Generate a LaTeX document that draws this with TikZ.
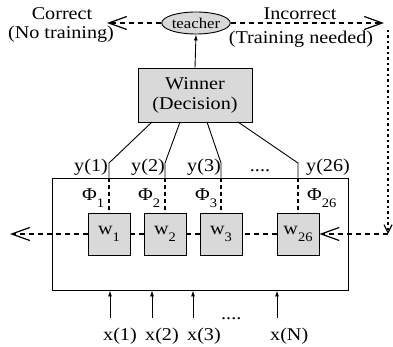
\documentclass[tikz,border=0pt]{standalone}
\usepackage{fontspec}
\setmainfont[FakeStretch=1.12]{Liberation Serif}
\usetikzlibrary{arrows.meta,shapes.geometric}
\newcommand{\mysub}[1]{\raisebox{-0.35em}{\fontsize{13}{13}\selectfont #1}}
\begin{document}
\begin{tikzpicture}[x=1pt,y=-1pt,
  lbl/.style={font=\fontsize{18}{20}\selectfont, inner sep=0pt},
  gbox/.style={draw, line width=0.9pt, fill=gray!30},
  wbox/.style={gbox, minimum width=42pt, minimum height=42pt, inner sep=0pt, font=\fontsize{18}{20}\selectfont},
  dsh/.style={line width=1.4pt, dash pattern=on 5pt off 4pt},
  vdsh/.style={line width=1.1pt, dash pattern=on 4pt off 3pt},
  bigtip/.style={-{Straight Barb[length=18pt,width=13pt,line width=1.2pt]}},
  smalltip/.style={-{Latex[length=6pt,width=4pt]}},
  wire/.style={line width=0.9pt}]
\useasboundingbox (0,0) rectangle (393,347);

% main nodes
\node[gbox, ellipse, minimum width=58pt, minimum height=22pt, inner sep=0pt, font=\fontsize{15}{15}\selectfont] (teacher) at (196,23) {teacher};
\node[gbox, lbl, minimum width=114pt, minimum height=54pt, align=center] (winner) at (195,95) {Winner\\(Decision)};
\node[draw, line width=0.9pt, minimum width=296pt, minimum height=112pt, inner sep=0pt] (frame) at (200,234) {};
\node[wbox] (w1) at (109,234) {w\mysub{1}};
\node[wbox] (w2) at (165,234) {w\mysub{2}};
\node[wbox] (w3) at (221,234) {w\mysub{3}};
\node[wbox] (w26) at (298,234) {w\mysub{26}};

% top labels
\node[lbl, anchor=base] (lc1) at (62,20) {Correct};
\node[lbl, anchor=base] (lc2) at (61,39) {(No training)};
\node[lbl, anchor=base] (li1) at (300,20) {Incorrect};
\node[lbl, anchor=base] (li2) at (301,44) {(Training needed)};

% coordinates
\coordinate (b1) at (152,122);
\coordinate (b2) at (180,122);
\coordinate (b3) at (207,122);
\coordinate (b4) at (238,122);
\coordinate (j1) at (109,163);
\coordinate (j2) at (165,163);
\coordinate (j3) at (221,163);
\coordinate (j4) at (298,163);
\coordinate (cEnd) at (107,23);
\coordinate (iEnd) at (384,23);
\coordinate (vTop) at (388,30);
\coordinate (corner) at (388,234);
\coordinate (lEnd) at (10,234);
\coordinate (xa1) at (110,318);
\coordinate (xa2) at (152,318);
\coordinate (xa3) at (193,318);
\coordinate (xa4) at (277,318);

% winner outputs
\foreach \b/\j/\w in {b1/j1/w1, b2/j2/w2, b3/j3/w3, b4/j4/w26}{
  \draw[wire] (\b) -- (\j) -- (\j |- frame.north);
  \draw[vdsh] (\j |- frame.north) -- (\w.north);
}
\node[lbl, anchor=base east] (y1) at (108,172) {y(1)};
\node[lbl, anchor=base east] (y2) at (165,172) {y(2)};
\node[lbl, anchor=base east] (y3) at (221,172) {y(3)};
\node[lbl, anchor=base] (ydots) at (260,172) {....};
\node[lbl, anchor=base west] (y26) at (306,172) {y(26)};

\node[lbl, anchor=base west] (p1) at (82,201) {Φ\mysub{1}};
\node[lbl, anchor=base west] (p2) at (138,201) {Φ\mysub{2}};
\node[lbl, anchor=base west] (p3) at (195,201) {Φ\mysub{3}};
\node[lbl, anchor=base west] (p26) at (307,201) {Φ\mysub{26}};

% winner to teacher
\draw[wire, smalltip] (winner.north) -- (teacher.south);

% teacher outputs
\draw[dsh, bigtip] (teacher.west) -- (cEnd);
\draw[dsh, bigtip] (teacher.east) -- (iEnd);
\draw[line width=1.8pt, dash pattern=on 2.5pt off 3pt, -{Straight Barb[length=8pt,width=8pt,line width=1.2pt]}] (vTop) -- (corner);
\draw[dsh, bigtip] (corner) -- (w26.east);

% chain
\draw[dsh] (w26.west) -- (w3.east);
\draw[dsh] (w3.west) -- (w2.east);
\draw[dsh] (w2.west) -- (w1.east);
\draw[dsh, bigtip] (w1.west) -- (lEnd);

% inputs
\foreach \x in {xa1,xa2,xa3,xa4}{
  \draw[wire, smalltip] (\x) -- (\x |- frame.south);
}
\node[lbl, anchor=base west] (x1) at (103,340) {x(1)};
\node[lbl, anchor=base west] (x2) at (145,340) {x(2)};
\node[lbl, anchor=base west] (x3) at (187,340) {x(3)};
\node[lbl, anchor=base west] (xdots) at (221,319) {....};
\node[lbl, anchor=base west] (xN) at (270,340) {x(N)};
\end{tikzpicture}
\end{document}
